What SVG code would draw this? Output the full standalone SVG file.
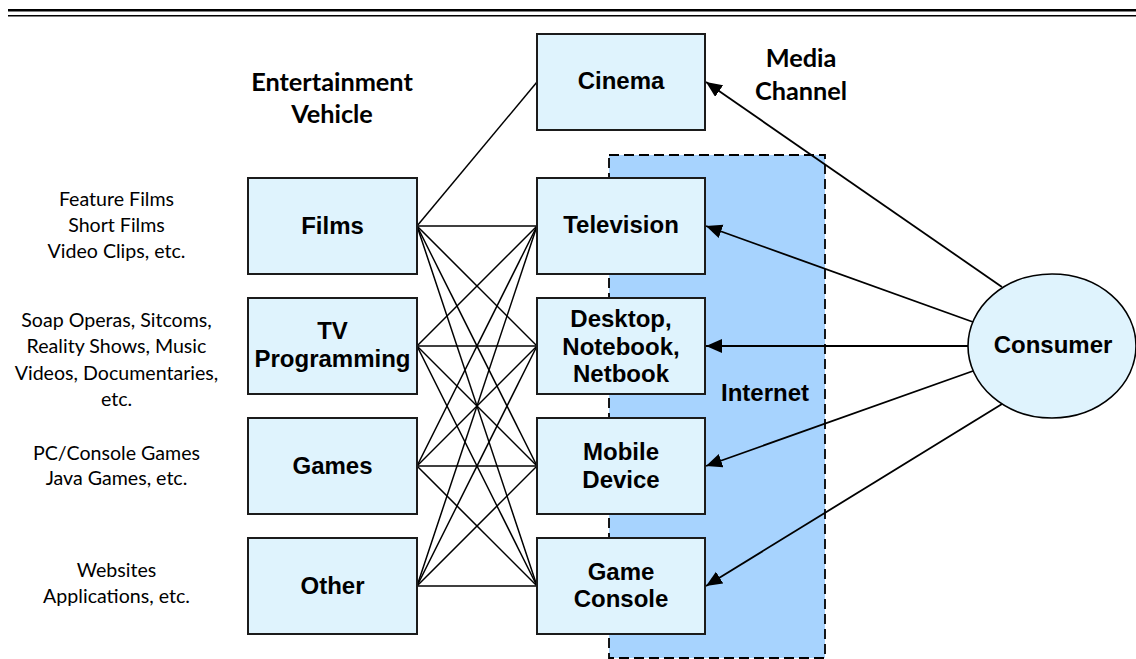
<svg xmlns="http://www.w3.org/2000/svg" width="1136" height="659" viewBox="0 0 1136 659">
  <defs>
    <marker id="arrow" markerUnits="userSpaceOnUse" markerWidth="17" markerHeight="15" refX="16" refY="7" orient="auto">
      <path d="M0,0 L16,7 L0,14 z" fill="#000"/>
    </marker>
    <style>
      .box { fill: #DFF3FD; stroke: #1b1b1b; stroke-width: 2; }
      .lbl { font-family: "Liberation Sans", Arial, sans-serif; font-weight: bold; font-size: 24px; fill: #000; text-anchor: middle; }
      .head { font-family: Lato, "Open Sans", sans-serif; font-weight: bold; font-size: 25.3px; fill: #000; text-anchor: middle; }
      .desc { font-family: Lato, "Open Sans", sans-serif; font-size: 19.6px; fill: #000; text-anchor: middle; }
      .link { stroke: #000; stroke-width: 1.5; fill: none; }
      .arrow { stroke: #000; stroke-width: 1.8; fill: none; marker-end: url(#arrow); }
    </style>
  </defs>

  <rect width="1136" height="659" fill="#fff"/>

  <!-- double rule along the top edge -->
  <line x1="8" y1="10.2" x2="1136" y2="10.2" stroke="#000" stroke-width="2.4"/>
  <line x1="8" y1="15.8" x2="1136" y2="15.8" stroke="#000" stroke-width="1.4"/>

  <!-- Internet region -->
  <g id="internet">
    <rect x="609" y="155" width="216" height="503" fill="#A7D3FE" stroke="#000" stroke-width="1.8" stroke-dasharray="10 5"/>
    <text class="lbl" x="765" y="401">Internet</text>
  </g>

  <!-- column headings -->
  <g id="headings">
    <text class="head" x="332" y="91">Entertainment</text>
    <text class="head" x="332" y="123">Vehicle</text>
    <text class="head" x="801" y="67">Media</text>
    <text class="head" x="801" y="100">Channel</text>
  </g>

  <!-- examples beside each vehicle -->
  <g id="examples">
    <text class="desc" x="116.5" y="206">Feature Films</text>
    <text class="desc" x="116.5" y="232">Short Films</text>
    <text class="desc" x="116.5" y="258">Video Clips, etc.</text>
    <text class="desc" x="116.5" y="327">Soap Operas, Sitcoms,</text>
    <text class="desc" x="116.5" y="353">Reality Shows, Music</text>
    <text class="desc" x="116.5" y="380">Videos, Documentaries,</text>
    <text class="desc" x="116.5" y="406">etc.</text>
    <text class="desc" x="116.5" y="460">PC/Console Games</text>
    <text class="desc" x="116.5" y="485">Java Games, etc.</text>
    <text class="desc" x="116.5" y="577">Websites</text>
    <text class="desc" x="116.5" y="603">Applications, etc.</text>
  </g>

  <!-- connectors -->
  <g id="connectors">
    <line class="link" x1="417" y1="226" x2="537" y2="82"/>
    <line class="link" x1="417" y1="226" x2="537" y2="226"/>
    <line class="link" x1="417" y1="226" x2="537" y2="346"/>
    <line class="link" x1="417" y1="226" x2="537" y2="466"/>
    <line class="link" x1="417" y1="226" x2="537" y2="586"/>
    <line class="link" x1="417" y1="346" x2="537" y2="226"/>
    <line class="link" x1="417" y1="346" x2="537" y2="346"/>
    <line class="link" x1="417" y1="346" x2="537" y2="466"/>
    <line class="link" x1="417" y1="346" x2="537" y2="586"/>
    <line class="link" x1="417" y1="466" x2="537" y2="226"/>
    <line class="link" x1="417" y1="466" x2="537" y2="346"/>
    <line class="link" x1="417" y1="466" x2="537" y2="466"/>
    <line class="link" x1="417" y1="466" x2="537" y2="586"/>
    <line class="link" x1="417" y1="586" x2="537" y2="226"/>
    <line class="link" x1="417" y1="586" x2="537" y2="346"/>
    <line class="link" x1="417" y1="586" x2="537" y2="466"/>
    <line class="link" x1="417" y1="586" x2="537" y2="586"/>

    <line class="arrow" x1="1002" y1="287" x2="706" y2="82"/>
    <line class="arrow" x1="973" y1="322" x2="706" y2="226"/>
    <line class="arrow" x1="968" y1="346" x2="706" y2="346"/>
    <line class="arrow" x1="973" y1="371" x2="706" y2="466"/>
    <line class="arrow" x1="1002" y1="404" x2="706" y2="586"/>
  </g>

  <!-- entertainment vehicles -->
  <g id="films">
    <rect class="box" x="248" y="178" width="169" height="96"/>
    <text class="lbl" x="332.5" y="234">Films</text>
  </g>
  <g id="tv-programming">
    <rect class="box" x="248" y="298" width="169" height="96"/>
    <text class="lbl" x="332.5" y="339">TV</text>
    <text class="lbl" x="332.5" y="367">Programming</text>
  </g>
  <g id="games">
    <rect class="box" x="248" y="418" width="169" height="96"/>
    <text class="lbl" x="332.5" y="474">Games</text>
  </g>
  <g id="other">
    <rect class="box" x="248" y="538" width="169" height="96"/>
    <text class="lbl" x="332.5" y="594">Other</text>
  </g>

  <!-- media channels -->
  <g id="cinema">
    <rect class="box" x="537" y="34" width="168" height="96"/>
    <text class="lbl" x="621" y="89">Cinema</text>
  </g>
  <g id="television">
    <rect class="box" x="537" y="178" width="168" height="96"/>
    <text class="lbl" x="621" y="233">Television</text>
  </g>
  <g id="desktop">
    <rect class="box" x="537" y="298" width="168" height="96"/>
    <text class="lbl" x="621" y="327">Desktop,</text>
    <text class="lbl" x="621" y="354.5">Notebook,</text>
    <text class="lbl" x="621" y="382">Netbook</text>
  </g>
  <g id="mobile-device">
    <rect class="box" x="537" y="418" width="168" height="96"/>
    <text class="lbl" x="621" y="460">Mobile</text>
    <text class="lbl" x="621" y="488">Device</text>
  </g>
  <g id="game-console">
    <rect class="box" x="537" y="538" width="168" height="96"/>
    <text class="lbl" x="621" y="580">Game</text>
    <text class="lbl" x="621" y="607">Console</text>
  </g>

  <!-- consumer -->
  <g id="consumer">
    <ellipse cx="1052" cy="346" rx="84" ry="72" fill="#DFF3FD" stroke="#000" stroke-width="1.6"/>
    <text class="lbl" x="1053" y="353">Consumer</text>
  </g>
</svg>
